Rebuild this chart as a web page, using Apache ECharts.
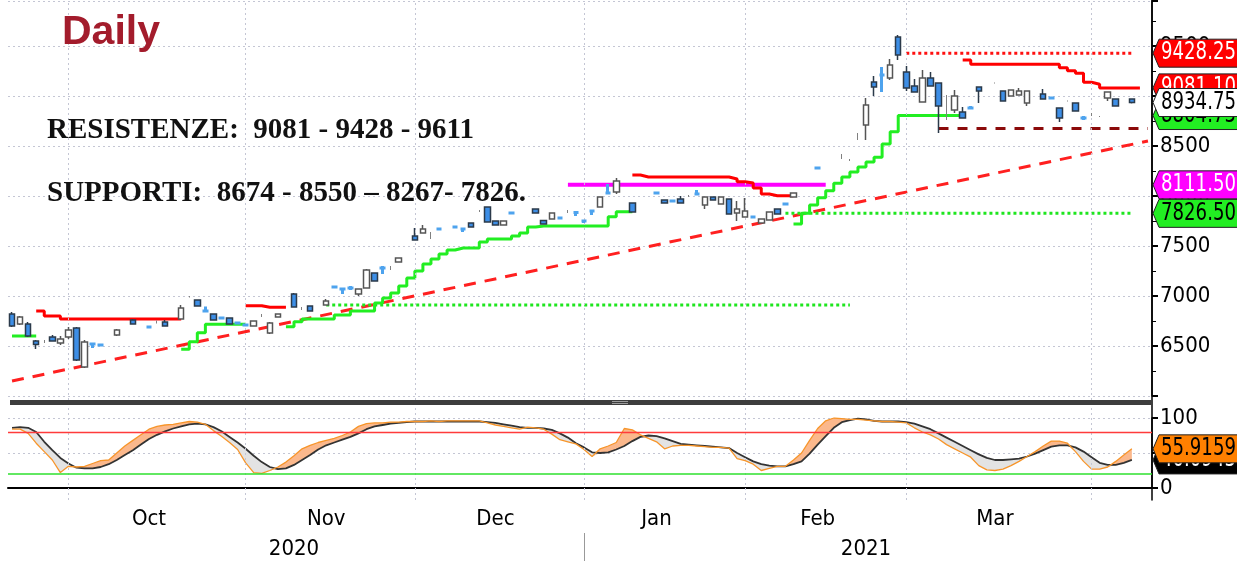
<!DOCTYPE html>
<html>
<head>
<meta charset="utf-8">
<script src="https://cdn.jsdelivr.net/npm/echarts@6/dist/echarts.min.js"></script>
<style>
  html, body { margin: 0; padding: 0; background: #fff; }
  #chart { width: 1237px; height: 561px; }
</style>
</head>
<body>
<div id="chart"></div>
<script>
// trading days shown on the chart (weekends and exchange holidays skipped)
const firstDay = '2020-09-22';
const lastDay = '2021-04-14';
const holidays = ['2020-12-25', '2020-12-28', '2021-01-01', '2021-04-02', '2021-04-05'];

// daily bars, null = no bar that day (open/close null but high/low set = wick only)
const open = [
  6820, 6720, 6720, 6550, null, 6590, 6530, 6590, 6680, 6290,
  6520, 6510, null, 6610, null, 6760, null, 6690, null, 6740,
  null, 6770, null, 6960, 6850, 6820, 6780, 6780, 6730, 6710,
  6700, null, 6630, 6790, null, 7020, null, 6900, null, 6910,
  7090, 7070, 7080, 7020, 7080, 7230, 7280, null, 7340, null,
  7600, 7630, null, 7670, null, 7690, 7670, 7730, null, 7890,
  7750, 7710, 7830, null, null, 7870, 7755, 7770, 7780, null,
  7835, 7750, 7850, 7890, 8030, 8040, null, 7930, null, null,
  8030, 7960, 7950, 7970, null, 8020, 7910, 7990, 7920, 7970,
  7830, 7790, 7790, 7730, 7760, 7870, 7920, 7990, null, null,
  8280, null, null, null, null, null, 8710, 9140, 9210, 9180,
  9590, 9240, 9100, 8940, 9180, 9130, null, 8860, 8840, 8880,
  9090, null, null, 9050, 9000, 9010, 8930, null, 9020, 8980,
  8880, null, 8930, 8780, null, null, 8980, 8970, null, 8970,
  null, null
];
const close = [
  6700, 6790, 6600, 6515, null, 6550, 6570, 6660, 6360, 6540,
  6520, 6510, null, 6660, null, 6720, null, 6690, null, 6700,
  null, 6880, null, 6900, 6850, 6760, 6780, 6720, 6730, 6710,
  6750, null, 6730, 6820, null, 6890, null, 6850, null, 6950,
  7090, 7070, 7080, 7070, 7260, 7150, 7280, null, 7380, null,
  7560, 7670, null, 7670, null, 7690, 7670, 7690, null, 7740,
  7710, 7750, 7830, null, null, 7830, 7720, 7830, 7780, null,
  7835, 7750, 7850, 7990, 8030, 8150, null, 7840, null, null,
  8030, 7930, 7950, 7930, null, 8020, 7990, 7960, 7990, 7820,
  7870, 7850, 7790, 7770, 7840, 7820, 7920, 8030, null, null,
  8280, null, null, null, null, null, 8910, 9090, 9210, 9310,
  9410, 9080, 9040, 9180, 9100, 8900, null, 9000, 8780, 8880,
  9050, null, null, 8950, 9060, 9050, 9050, null, 8970, 8980,
  8780, null, 8850, 8780, null, null, 9040, 8900, null, 8934.75,
  null, null
];
const low = [
  6690, 6710, 6590, 6470, 6530, 6545, 6510, 6570, 6350, 6280,
  6480, 6505, null, 6600, null, 6715, null, 6685, 6725, 6695,
  null, 6765, 6985, 6895, 6845, 6755, 6775, 6715, 6725, 6705,
  6695, 6790, 6620, 6785, null, 6885, 6860, 6845, null, 6905,
  7080, 7020, 7060, 7000, 7075, 7145, 7220, 7260, 7335, null,
  7555, 7625, 7570, 7665, null, 7685, 7640, 7685, 7840, 7735,
  7705, 7705, 7825, null, null, 7825, 7715, 7765, 7775, 7830,
  7800, 7730, 7810, 7885, 8025, 8020, null, 7835, null, null,
  8025, 7925, 7945, 7925, 7990, 8015, 7870, 7955, 7915, 7815,
  7750, 7785, 7785, 7725, 7755, 7815, 7910, 7985, null, null,
  8275, null, null, 8370, 8350, 8560, 8560, 9000, 9040, 9160,
  9360, 9050, 9035, 8935, 9095, 8630, 8760, 8830, 8775, 8870,
  8930, null, 9125, 8945, 8995, 9005, 8900, null, 8965, 8970,
  8740, 8945, 8845, 8760, 8800, 8790, 8950, 8895, null, 8925,
  null, null
];
const high = [
  6840, 6800, 6740, 6560, 6560, 6610, 6600, 6690, 6690, 6560,
  6530, 6515, null, 6670, null, 6770, null, 6695, 6755, 6760,
  null, 6910, 7000, 6965, 6895, 6825, 6785, 6785, 6735, 6715,
  6755, 6820, 6740, 6825, null, 7030, 6890, 6905, null, 6970,
  7100, 7080, 7100, 7075, 7270, 7235, 7300, 7300, 7385, null,
  7680, 7710, 7640, 7675, null, 7695, 7675, 7735, 7860, 7895,
  7755, 7755, 7835, null, null, 7875, 7760, 7835, 7785, 7860,
  7840, 7760, 7855, 7995, 8120, 8180, null, 7935, null, null,
  8035, 7965, 7955, 8000, 8010, 8060, 7995, 7995, 7995, 7975,
  7950, 7980, 7795, 7775, 7845, 7875, 7930, 8035, null, null,
  8285, null, null, 8420, 8370, 8630, 8980, 9200, 9290, 9370,
  9610, 9300, 9170, 9260, 9240, 9135, 9010, 9060, 8890, 8900,
  9095, null, 9135, 9055, 9065, 9080, 9055, null, 9070, 8990,
  8885, 8955, 8935, 8800, 8830, 8800, 9045, 8975, null, 8975,
  null, null
];

// stepped resistance (red) and support (green) trails: [first day index, values...]
const resistSteps = [
  [3, [6850, 6800, 6800, 6770, 6770, 6770, 6770, 6770, 6770, 6770, 6770, 6770, 6770, 6770, 6770, 6770, 6770, 6770]],
  [29, [6903, 6903, 6887, 6887, 6887]],
  [77, [8210, 8190, 8190, 8190, 8190, 8190, 8190, 8190, 8190, 8190, 8190, 8190, 8170, 8143, 8130, 8080, 8020, 8003, 8003, 8003]],
  [118, [9360, 9317, 9317, 9317, 9317, 9317, 9317, 9317, 9317, 9317, 9317, 9317, 9283, 9253, 9227, 9137, 9117, 9081.1, 9081.1, 9081.1, 9081.1, 9081.1]]
];
const supportSteps = [
  [0, [6600, 6600, 6600]],
  [21, [6467, 6543, 6633, 6717, 6717, 6717, 6717, 6717]],
  [34, [6693, 6743, 6770, 6770, 6770, 6770, 6810, 6810, 6850, 6850, 6850, 6930, 6980, 7030, 7100, 7180, 7250, 7320, 7370, 7420,
        7460, 7480, 7480, 7480, 7540, 7570, 7570, 7570, 7600, 7630, 7690, 7700, 7700, 7700, 7700, 7700, 7700, 7700, 7700, 7700,
        7793, 7843, 7843]],
  [97, [7720, 7827, 7910, 7983, 8053, 8127, 8190, 8240, 8290, 8340, 8387, 8520, 8643,
        8804.75, 8804.75, 8804.75, 8804.75, 8804.75, 8804.75, 8804.75, 8804.75]]
];

// horizontal levels: value, first and last day index
const levelResist = [9428.25, 111, 139];
const levelPivot = [8111.5, 69, 101];
const levelSupport = [7826.5, 96, 139];
const levelOldSupport = [6910, 39, 104];
const levelDashed = [8674, 115, 141];
// rising trend line: value at first day, value at last slot
const trendStart = 6150;
const trendEnd = 8550;

// slow stochastic
const stochK = [
  84, 84, 78, 64, 52, 40, 22, 31, 30, 31, 35, 39, 40, 50, 60, 68, 76, 84, 88, 90,
  91, 93, 95, 94, 91, 82, 74, 65, 55, 36, 22, 21, 25, 30, 37, 46, 56, 61, 65, 68,
  71, 75, 80, 88, 92, 93, 93, 94, 94, 95, 95, 95, 96, 95, 96, 96, 96, 96, 96, 93,
  90, 88, 86, 84, 87, 86, 84, 77, 69, 66, 63, 55, 45, 56, 60, 65, 85, 83, 76, 71,
  66, 56, 60, 61, 61, 60, 59, 58, 58, 57, 42, 39, 34, 25, 28, 31, 31, 40, 50, 68,
  85, 96, 100, 99, 98, 98, 97, 96, 95, 95, 94, 93, 86, 80, 76, 70, 62, 56, 50, 44,
  32, 26, 25, 27, 32, 38, 45, 52, 60, 67, 67, 64, 52, 38, 27, 27, 30, 38, 47, 55.9159
];
const stochD = [
  86, 87, 86, 80, 66, 54, 43, 35, 29, 28, 28, 30, 34, 40, 47, 54, 62, 70, 76, 81,
  85, 88, 91, 92, 91, 87, 81, 73, 65, 56, 46, 37, 30, 27, 28, 33, 40, 47, 55, 61,
  65, 69, 73, 78, 84, 88, 90, 92, 93, 94, 95, 95, 95, 95, 95, 95, 95, 95, 95, 94,
  93, 91, 89, 87, 86, 86, 85, 83, 78, 72, 64, 58, 51, 50, 51, 55, 60, 67, 73, 75,
  74, 71, 67, 63, 62, 61, 60, 59, 58, 57, 50, 44, 38, 34, 32, 31, 31, 34, 38, 49,
  62, 74, 86, 94, 97, 99, 98, 96, 95, 95, 95, 94, 92, 88, 84, 78, 72, 66, 60, 54,
  48, 43, 40, 40, 41, 42, 45, 49, 54, 59, 61, 61, 58, 52, 44, 36, 33, 33, 36, 40.0945
];
const stochHigh = 80;
const stochLow = 20;
const monthNames = ['Jan', 'Feb', 'Mar', 'Apr', 'May', 'Jun', 'Jul', 'Aug', 'Sep', 'Oct', 'Nov', 'Dec'];

// ---------------------------------------------------------------
const dates = [];
for (let d = new Date(firstDay + 'T00:00:00Z'); d <= new Date(lastDay + 'T00:00:00Z'); d.setUTCDate(d.getUTCDate() + 1)) {
  const s = d.toISOString().slice(0, 10);
  const wd = d.getUTCDay();
  if (wd === 0 || wd === 6 || holidays.includes(s)) continue;
  dates.push(s);
}

const monthStarts = [];
dates.forEach((s, i) => { if (i > 0 && s.slice(5, 7) !== dates[i - 1].slice(5, 7)) monthStarts.push(i); });
const monthMids = [];
for (let m = 0; m < monthStarts.length - 1; m++) monthMids.push(Math.floor((monthStarts[m] + monthStarts[m + 1] - 1) / 2));
const yearStart = dates.findIndex(s => s.slice(0, 4) === '2021');
const yearMids = [Math.floor((yearStart - 1) / 2), Math.floor((yearStart + dates.length - 1) / 2)];

const fromSegments = segs => {
  const arr = dates.map(() => null);
  segs.forEach(([start, vals]) => vals.forEach((v, j) => { arr[start + j] = v; }));
  return arr;
};
const levelData = ([v, a, b]) => dates.map((_, i) => (i >= a && i <= b ? v : null));
const trendData = dates.map((_, i) => (i === 0 ? trendStart : i === dates.length - 1 ? trendEnd : null));

const dojiStyle = { color: '#4ea3ee', color0: '#4ea3ee', borderColor: '#4ea3ee', borderColor0: '#4ea3ee', borderWidth: 3 };
const candles = [];
const wicks = [];
dates.forEach((_, i) => {
  if (open[i] != null) {
    const item = { value: [open[i], close[i], low[i], high[i]] };
    if (open[i] === close[i]) item.itemStyle = dojiStyle;
    candles.push(item);
  } else {
    candles.push('-');
  }
  if (open[i] == null && high[i] != null) {
    const m = (low[i] + high[i]) / 2;
    wicks.push([m, m, low[i], high[i]]);
  } else {
    wicks.push('-');
  }
});

const kLen = stochK.length;
const lowerOf = stochK.map((k, i) => Math.min(k, stochD[i]));
const kAbove = stochK.map((k, i) => Math.max(k - stochD[i], 0));
const dAbove = stochK.map((k, i) => Math.max(stochD[i] - k, 0));

const narrow = '"DejaVu Sans Condensed", "Liberation Sans", sans-serif';
const gridLine = { type: [2, 3], color: '#c4c6d4', width: 1 };
const hidden = { lineStyle: { opacity: 0 } };

const chart = echarts.init(document.getElementById('chart'));

chart.setOption({
  animation: false,
  backgroundColor: '#fff',
  grid: [
    { left: 8, right: 85, top: 1, height: 395 },
    { left: 8, right: 85, top: 418, height: 70 },
    { left: 8, right: 85, top: 0, height: 500 }
  ],
  xAxis: [
    { gridIndex: 0, type: 'category', data: dates, show: false },
    {
      gridIndex: 1, type: 'category', data: dates, offset: 12,
      axisLine: { lineStyle: { color: '#000', width: 2 } },
      axisTick: { alignWithLabel: true, interval: i => monthStarts.includes(i), length: 8, lineStyle: { color: '#000' } },
      axisLabel: {
        interval: i => monthMids.includes(i), formatter: v => monthNames[+v.slice(5, 7) - 1],
        fontFamily: narrow, fontSize: 22, color: '#000', margin: 8
      },
      splitLine: { show: false }
    },
    { gridIndex: 2, type: 'category', data: dates, show: false },
    {
      gridIndex: 1, type: 'category', data: dates, position: 'bottom', offset: 45,
      axisLine: { show: false },
      axisTick: { show: true, alignWithLabel: true, interval: i => i === yearStart, length: 28, lineStyle: { color: '#999', width: 1 } },
      axisLabel: {
        interval: i => yearMids.includes(i), formatter: v => v.slice(0, 4),
        fontFamily: narrow, fontSize: 22, color: '#000', margin: 5
      },
      splitLine: { show: false }
    }
  ],
  yAxis: [
    {
      gridIndex: 0, type: 'value', position: 'right', min: 6000, max: 9950, interval: 500,
      axisLine: { show: true, lineStyle: { color: '#000', width: 1.5 } },
      axisTick: { show: true, length: 6, lineStyle: { color: '#000', width: 2 } },
      minorTick: { show: true, splitNumber: 2, length: 4, lineStyle: { color: '#000' } },
      axisLabel: { formatter: v => (v === 6000 || v % 500 !== 0 ? '' : v), fontFamily: narrow, fontSize: 22, color: '#000', margin: 8 },
      splitLine: { show: true, lineStyle: gridLine }
    },
    {
      gridIndex: 1, type: 'value', position: 'right', min: 0, max: 100, interval: 50,
      axisLine: { show: true, lineStyle: { color: '#000', width: 1.5 } },
      axisTick: { show: true, length: 6, lineStyle: { color: '#000', width: 2 } },
      axisLabel: { formatter: v => (v === 50 ? '' : v), fontFamily: narrow, fontSize: 22, color: '#000', margin: 8 },
      splitLine: { show: true, lineStyle: gridLine }
    },
    {
      gridIndex: 2, type: 'value', position: 'right', min: 0, max: 1,
      axisLine: { show: true, lineStyle: { color: '#000', width: 1.5 } },
      axisTick: { show: false }, axisLabel: { show: false }, splitLine: { show: false }
    }
  ],
  series: [
    {
      // month separators across both panels
      type: 'line', xAxisIndex: 2, yAxisIndex: 2, data: dates.map(() => null), silent: true, z: 0,
      markLine: {
        silent: true, symbol: 'none', label: { show: false },
        lineStyle: gridLine,
        data: monthStarts.map(i => ({ xAxis: dates[i] }))
      }
    },
    {
      name: 'trend', type: 'line', xAxisIndex: 0, yAxisIndex: 0, data: trendData, connectNulls: true,
      showSymbol: false, lineStyle: { color: '#ff2020', width: 3, type: [12, 9] }, z: 3
    },
    {
      name: 'oldSupport', type: 'line', data: levelData(levelOldSupport), showSymbol: false,
      lineStyle: { color: '#1ee61e', width: 3, type: [3, 3] }, z: 3
    },
    {
      name: 'support', type: 'line', data: levelData(levelSupport), showSymbol: false,
      lineStyle: { color: '#1ee61e', width: 3, type: [3, 3] }, z: 3
    },
    {
      name: 'pivot', type: 'line', data: levelData(levelPivot), showSymbol: false,
      lineStyle: { color: '#ff00ff', width: 4 }, z: 3
    },
    {
      name: 'resist', type: 'line', data: levelData(levelResist), showSymbol: false,
      lineStyle: { color: '#ff1010', width: 3, type: [3, 3] }, z: 3
    },
    {
      name: 'dashed', type: 'line', data: levelData(levelDashed), showSymbol: false,
      lineStyle: { color: '#8b0a0a', width: 3, type: [10, 9] }, z: 3
    },
    {
      name: 'resistTrail', type: 'line', step: 'end', data: fromSegments(resistSteps), showSymbol: false,
      lineStyle: { color: '#ff0000', width: 3 }, z: 4
    },
    {
      name: 'supportTrail', type: 'line', step: 'end', data: fromSegments(supportSteps), showSymbol: false,
      lineStyle: { color: '#22ee22', width: 3 }, z: 4
    },
    {
      name: 'wicks', type: 'candlestick', data: wicks, barWidth: 1, z: 5,
      itemStyle: { color: '#808080', color0: '#808080', borderColor: '#808080', borderColor0: '#808080', borderWidth: 1 }
    },
    {
      name: 'price', type: 'candlestick', data: candles, barWidth: 6, z: 5,
      itemStyle: { color: '#ffffff', color0: '#3d8ee6', borderColor: '#555555', borderColor0: '#2b3a4a', borderWidth: 1.5 }
    },
    // stochastic panel
    { type: 'line', xAxisIndex: 1, yAxisIndex: 1, stack: 'kup', data: lowerOf, showSymbol: false, ...hidden, silent: true },
    {
      type: 'line', xAxisIndex: 1, yAxisIndex: 1, stack: 'kup', data: kAbove, showSymbol: false, ...hidden, silent: true,
      areaStyle: { color: '#fbb88c', opacity: 1 }
    },
    { type: 'line', xAxisIndex: 1, yAxisIndex: 1, stack: 'kdn', data: lowerOf, showSymbol: false, ...hidden, silent: true },
    {
      type: 'line', xAxisIndex: 1, yAxisIndex: 1, stack: 'kdn', data: dAbove, showSymbol: false, ...hidden, silent: true,
      areaStyle: { color: '#e3e3e3', opacity: 1 }
    },
    {
      name: '%D', type: 'line', xAxisIndex: 1, yAxisIndex: 1, data: stochD, showSymbol: false,
      lineStyle: { color: '#333333', width: 1.8 }, z: 4
    },
    {
      name: '%K', type: 'line', xAxisIndex: 1, yAxisIndex: 1, data: stochK, showSymbol: false,
      lineStyle: { color: '#f7952a', width: 1.3 }, z: 4,
      markLine: {
        silent: true, symbol: 'none', label: { show: false },
        data: [
          { yAxis: stochHigh, lineStyle: { color: '#ff3b3b', width: 1.3, type: 'solid' } },
          { yAxis: stochLow, lineStyle: { color: '#2ee02e', width: 1.6, type: 'solid' } }
        ]
      }
    }
  ]
});

// value tags on the right axis
const tagFont = '24px ' + narrow;
function tag(y, txt, bg, fg, z) {
  return [
    {
      type: 'polygon', z: z,
      shape: { points: [[1153, y], [1159, y - 14], [1240, y - 14], [1240, y + 14], [1159, y + 14]] },
      style: { fill: bg, stroke: '#222', lineWidth: 1 }
    },
    { type: 'text', z: z + 1, x: 1161, y: y, scaleX: 0.84, style: { text: txt, fill: fg, font: tagFont, verticalAlign: 'middle' } }
  ];
}
const py = v => chart.convertToPixel({ yAxisIndex: 0 }, v);
const sy = v => chart.convertToPixel({ yAxisIndex: 1 }, v);
const lastRes = fromSegments(resistSteps).filter(v => v != null).pop();
const lastSup = fromSegments(supportSteps).filter(v => v != null).pop();
const lastClose = close.filter(v => v != null).pop();

chart.setOption({
  graphic: [
    { type: 'rect', z: 50, shape: { x: 10, y: 400, width: 1142, height: 5 }, style: { fill: '#3d3d3d' } },
    { type: 'rect', z: 51, shape: { x: 612, y: 401, width: 16, height: 1 }, style: { fill: '#9a9a9a' } },
    { type: 'rect', z: 51, shape: { x: 612, y: 403, width: 16, height: 1 }, style: { fill: '#9a9a9a' } },
    { type: 'text', z: 60, x: 62, y: 33, style: { text: 'Daily', fill: '#a31c2c', font: 'bold 41px "Liberation Sans", Arial, sans-serif', verticalAlign: 'middle' } },
    { type: 'text', z: 60, x: 47, y: 131, style: { text: 'RESISTENZE:  9081 - 9428 - 9611', fill: '#111', font: 'bold 29px "Liberation Serif", "Times New Roman", serif', verticalAlign: 'middle' } },
    { type: 'text', z: 60, x: 47, y: 194, style: { text: 'SUPPORTI:  8674 - 8550 \u2013 8267- 7826.', fill: '#111', font: 'bold 29px "Liberation Serif", "Times New Roman", serif', verticalAlign: 'middle' } },
    ...tag(py(levelResist[0]), levelResist[0].toFixed(2), '#ff0000', '#fff', 100),
    ...tag(py(lastRes), lastRes.toFixed(2), '#ff0000', '#fff', 102),
    ...tag(py(lastSup), lastSup.toFixed(2), '#22ee22', '#000', 104),
    ...tag(py(lastClose), lastClose.toFixed(2), '#ffffff', '#000', 106),
    ...tag(py(levelPivot[0]), levelPivot[0].toFixed(2), '#ff00ff', '#fff', 108),
    ...tag(py(levelSupport[0]), levelSupport[0].toFixed(2), '#22ee22', '#000', 110),
    ...tag(sy(stochD[kLen - 1]), stochD[kLen - 1].toFixed(4), '#000000', '#fff', 112),
    ...tag(sy(stochK[kLen - 1]), stochK[kLen - 1].toFixed(4), '#ff8000', '#000', 114)
  ]
});
</script>
</body>
</html>
